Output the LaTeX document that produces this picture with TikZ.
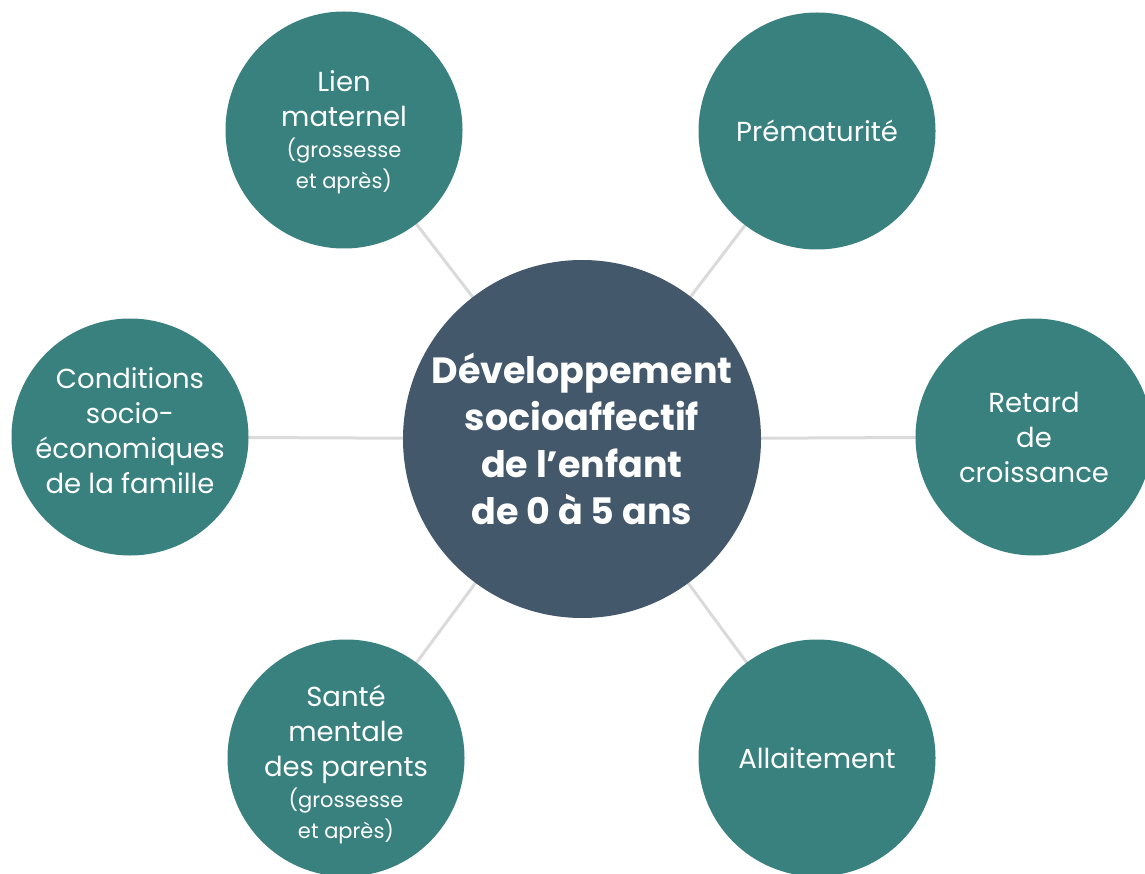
\documentclass[tikz,border=0pt]{standalone}
\usepackage{fontspec}
\setmainfont{Poppins}
\definecolor{teal1}{HTML}{38817E}
\definecolor{slate1}{HTML}{44586B}
\definecolor{link1}{HTML}{DADADA}
\tikzset{
  sat/.style={circle, fill=teal1, minimum size=237pt, inner sep=0pt, text=white, align=center, font=\fontsize{27.5}{35}\selectfont},
  sattext/.style={inner sep=0pt, text=white, align=center, font=\fontsize{27.5}{35}\selectfont},
  hub/.style={circle, fill=slate1, minimum size=358pt, inner sep=0pt, text=white, align=center, font=\bfseries\fontsize{36.5}{47}\selectfont},
  link/.style={draw=link1, line width=3pt}
}
\newcommand{\sm}{\fontsize{21}{30}\selectfont}
\begin{document}
\begin{tikzpicture}[x=1pt,y=-1pt]
\useasboundingbox (0,0) rectangle (1145,874);
\clip (0,0) rectangle (1145,874);
\coordinate (cc) at (582,439);
\coordinate (ctl) at (344,130);
\coordinate (ctr) at (817,131);
\coordinate (cl) at (130,437);
\coordinate (cr) at (1034,437);
\coordinate (cbl) at (346,758);
\coordinate (cbr) at (817,758);
\draw[link] (cc) -- (ctl);
\draw[link] (cc) -- (ctr);
\draw[link] (cc) -- (cl);
\draw[link] (cc) -- (cr);
\draw[link] (cc) -- (cbl);
\draw[link] (cc) -- (cbr);
\node[hub] (hub) at (cc) {Développement\\socioaffectif\\de l’enfant\\de 0 à 5 ans};
\node[sat] (tl) at (ctl) {};
\node[sattext] (tltext) at ([yshift=-2pt]tl.center) {Lien\\maternel\\[-4pt]{\sm(grossesse}\\[-4pt]{\sm et après)}};
\node[sat] (tr) at (ctr) {Prématurité};
\node[sat] (l) at (cl) {};
\node[sattext] (ltext) at ([yshift=6pt]l.center) {Conditions\\socio-\\économiques\\de la famille};
\node[sat] (r) at (cr) {Retard\\de\\croissance};
\node[sat] (bl) at (cbl) {};
\node[sattext] (bltext) at ([yshift=-6pt]bl.center) {Santé\\mentale\\des parents\\[-4pt]{\sm(grossesse}\\[-4pt]{\sm et après)}};
\node[sat] (br) at (cbr) {Allaitement};
\end{tikzpicture}
\end{document}
